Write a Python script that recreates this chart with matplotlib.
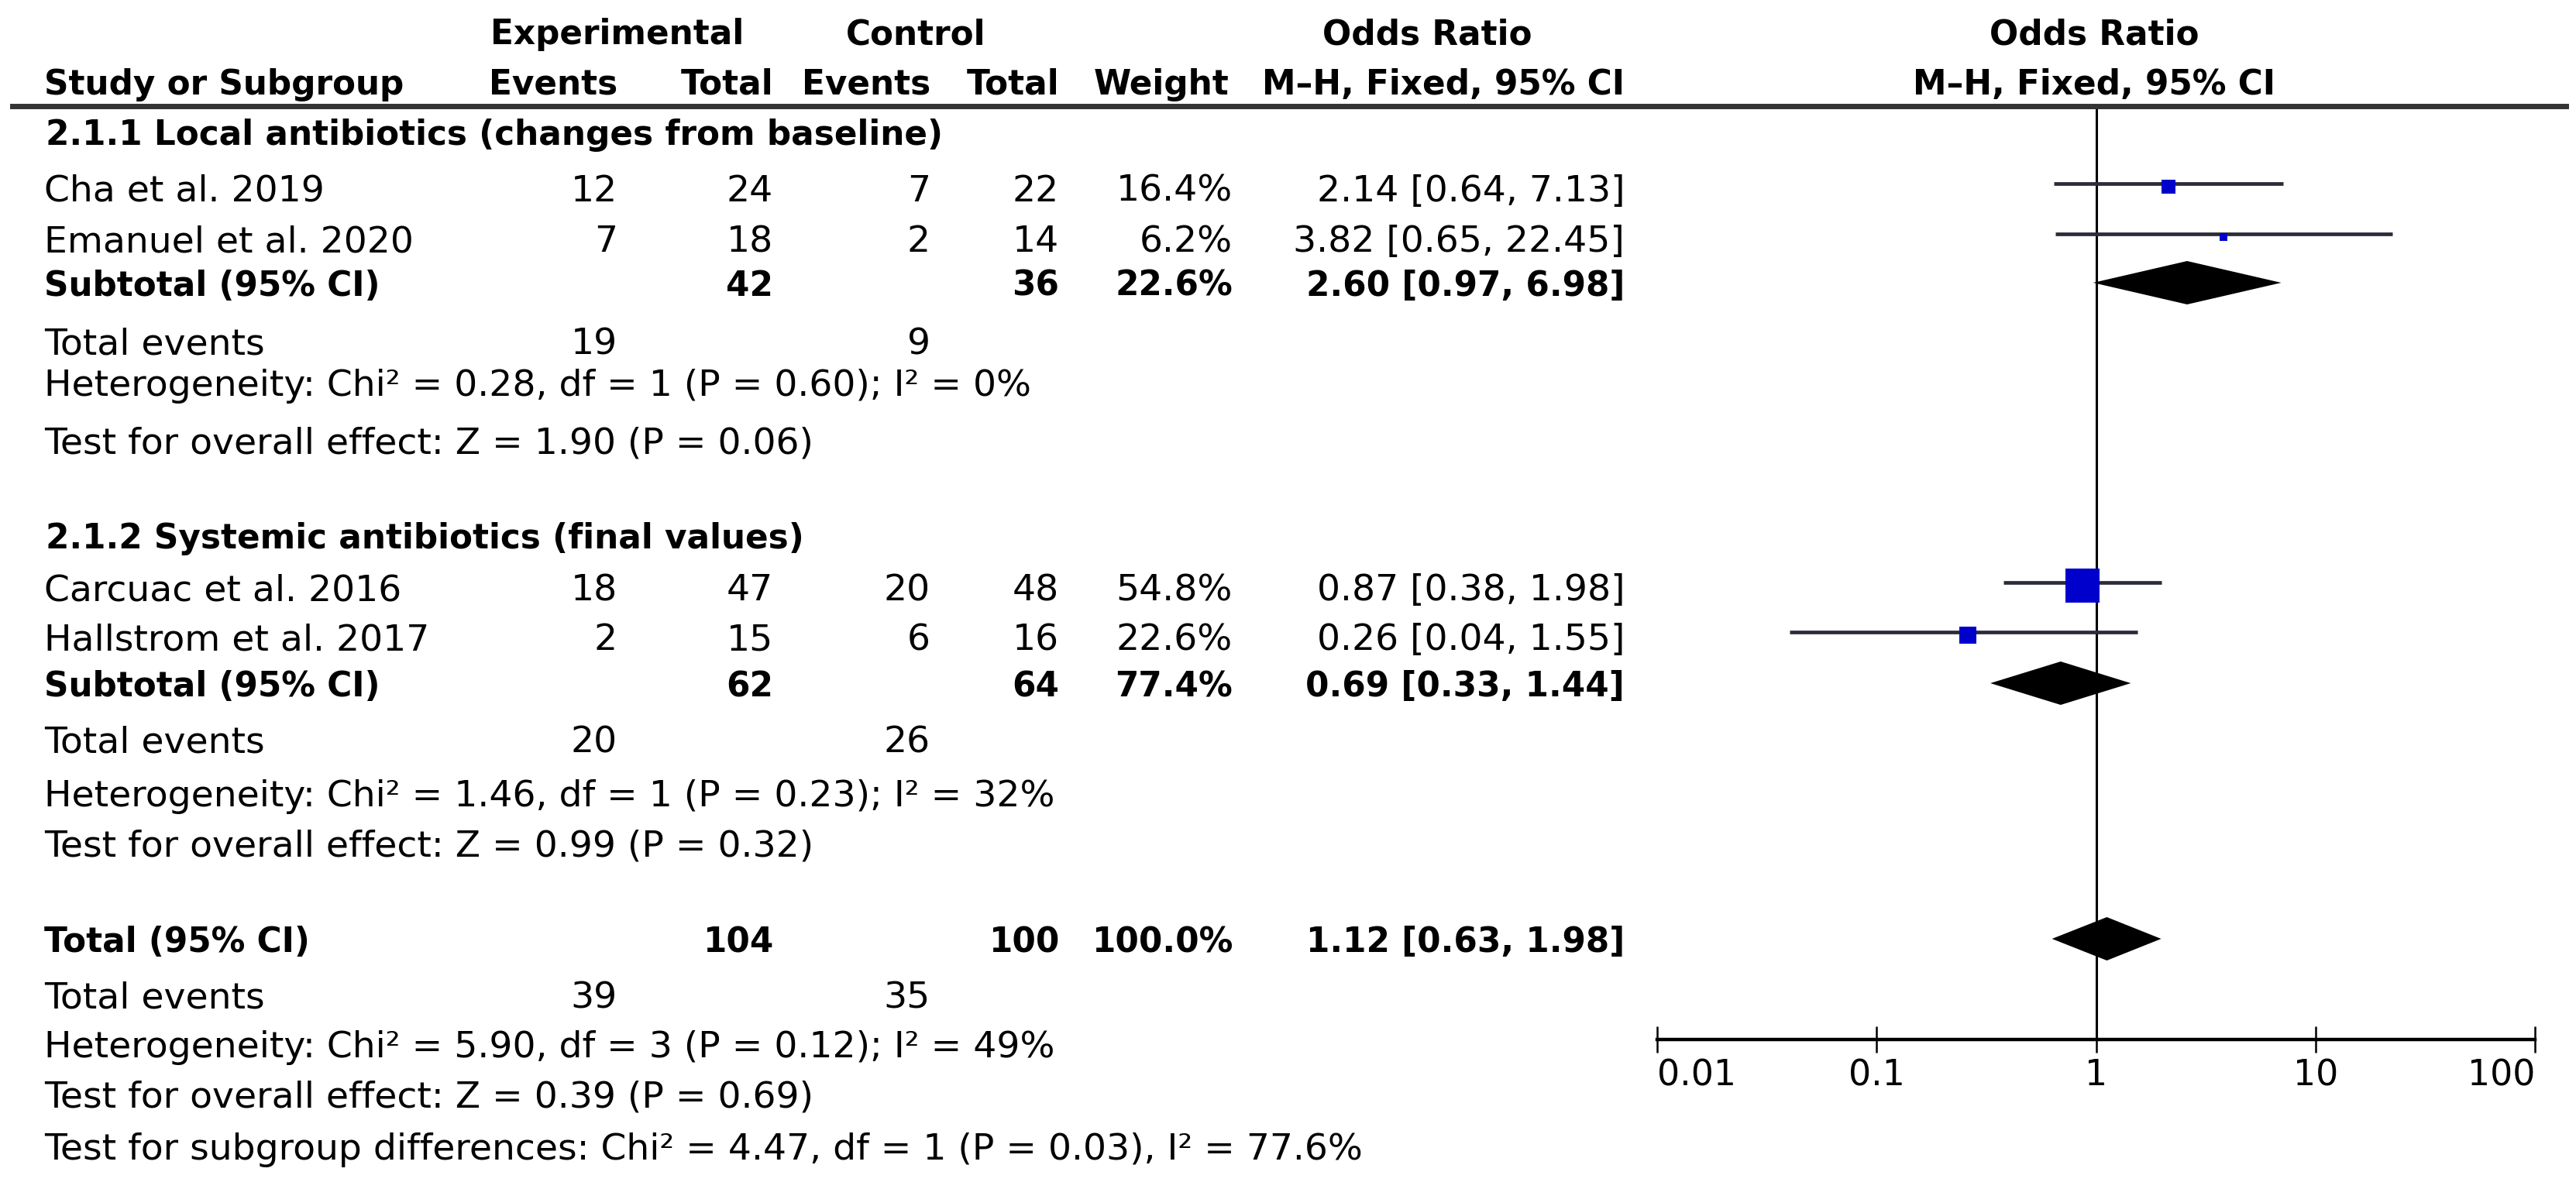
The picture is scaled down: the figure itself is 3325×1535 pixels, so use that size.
import matplotlib
matplotlib.use("Agg")
import matplotlib.pyplot as plt
from matplotlib.ticker import NullLocator
from matplotlib.lines import Line2D

# ---------------- data ----------------
studies = ["Cha et al. 2019", "Emanuel et al. 2020", "Carcuac et al. 2016", "Hallstrom et al. 2017"]
exp_events = [12, 7, 18, 2]
exp_total = [24, 18, 47, 15]
ctrl_events = [7, 2, 20, 6]
ctrl_total = [22, 14, 48, 16]
weights = [16.4, 6.2, 54.8, 22.6]
or_est = [2.14, 3.82, 0.87, 0.26]
ci_lo = [0.64, 0.65, 0.38, 0.04]
ci_hi = [7.13, 22.45, 1.98, 1.55]

subgroups = ["2.1.1 Local antibiotics (changes from baseline)", "2.1.2 Systemic antibiotics (final values)"]
sub_exp_total = [42, 62]
sub_ctrl_total = [36, 64]
sub_weight = [22.6, 77.4]
sub_or = [2.60, 0.69]
sub_lo = [0.97, 0.33]
sub_hi = [6.98, 1.44]
sub_exp_events = [19, 20]
sub_ctrl_events = [9, 26]
sub_chi = [0.28, 1.46]
sub_df = [1, 1]
sub_p = [0.60, 0.23]
sub_i2 = [0, 32]
sub_z = [1.90, 0.99]
sub_pz = [0.06, 0.32]

tot_exp_total = 104
tot_ctrl_total = 100
tot_weight = 100.0
tot_or = 1.12
tot_lo = 0.63
tot_hi = 1.98
tot_exp_events = 39
tot_ctrl_events = 35
tot_chi, tot_df, tot_p, tot_i2 = 5.90, 3, 0.12, 49
tot_z, tot_pz = 0.39, 0.69
diff_chi, diff_df, diff_p, diff_i2 = 4.47, 1, 0.03, 77.6

tick_vals = [0.01, 0.1, 1, 10, 100]
tick_labels = ["0.01", "0.1", "1", "10", "100"]

# ---------------- layout ----------------
W, H = 3325, 1535
FS = 34
FS_B = 31.5
FS_T = 33
FONT = "DejaVu Sans"
plt.rcParams['font.family'] = [FONT]

fig = plt.figure(figsize=(W / 100, H / 100), dpi=100)
fig.patch.set_facecolor("white")
ax = fig.add_axes([0, 0, 1, 1])
ax.set_xlim(0, W)
ax.set_ylim(H, 0)
ax.axis("off")

X_LEFT = 57
X_EE, X_ET, X_CE, X_CT, X_W, X_OR = 797, 998, 1201, 1367, 1591, 2097
X_PLOT_C = 2703
CAP = 17  # half cap-height offset to baseline


def txt(x, y, s, ha="left", bold=False):
    ax.text(x, y + CAP, s, ha=ha, va="baseline",
            fontsize=FS_B if bold else FS,
            fontweight="bold" if bold else "normal", color="black")


def fmt_or(o, l, h):
    return f"{o:.2f} [{l:.2f}, {h:.2f}]"


# headers
txt(797, 40, "Experimental", ha="center", bold=True)
txt(1182, 40, "Control", ha="center", bold=True)
txt(1842, 40, "Odds Ratio", ha="center", bold=True)
txt(X_PLOT_C, 40, "Odds Ratio", ha="center", bold=True)
txt(X_LEFT, 105, "Study or Subgroup", bold=True)
txt(X_EE, 105, "Events", ha="right", bold=True)
txt(X_ET, 105, "Total", ha="right", bold=True)
txt(X_CE, 105, "Events", ha="right", bold=True)
txt(X_CT, 105, "Total", ha="right", bold=True)
txt(1586, 105, "Weight", ha="right", bold=True)
txt(X_OR, 105, "M\u2013H, Fixed, 95% CI", ha="right", bold=True)
txt(X_PLOT_C, 105, "M\u2013H, Fixed, 95% CI", ha="center", bold=True)

fig.add_artist(Line2D([16 / W, 3312 / W], [1 - 137 / H, 1 - 137 / H],
                      color="#333333", lw=5))

# row positions (pixel rows)
group_head_y = [170, 691]
study_y = [[243, 308], [758, 822]]
sub_y = [365, 882]
ev_y = [441, 954]
het_y = [494, 1024]
z_y = [568, 1088]
total_y = 1212
tot_ev_y = 1285
tot_het_y = 1348
tot_z_y = 1413
diff_y = 1480

# forest axes
PL, PR, PT, PB = 2139, 3272, 137, 1342
fx = fig.add_axes([PL / W, 1 - PB / H, (PR - PL) / W, (PB - PT) / H])
fx.set_xscale("log")
fx.set_xlim(tick_vals[0], tick_vals[-1])
fx.set_ylim(PB, PT)
fx.patch.set_alpha(0)
for s in ["top", "left", "right"]:
    fx.spines[s].set_visible(False)
fx.spines["bottom"].set_linewidth(3.2)
fx.set_yticks([])
fx.set_xticks(tick_vals)
fx.set_xticklabels(tick_labels)
fx.xaxis.set_minor_locator(NullLocator())
fx.tick_params(axis="x", direction="inout", length=25, width=1.8, pad=5,
               labelsize=FS_T)
lbls = fx.get_xticklabels()
lbls[0].set_ha("left")
lbls[-1].set_ha("right")
fx.axvline(1, color="black", lw=2.2, zorder=1)

idx = 0
for g in range(2):
    txt(X_LEFT + 2, group_head_y[g], subgroups[g], bold=True)
    for k in range(2):
        y = study_y[g][k]
        txt(X_LEFT, y, studies[idx])
        txt(X_EE, y, str(exp_events[idx]), ha="right")
        txt(X_ET, y, str(exp_total[idx]), ha="right")
        txt(X_CE, y, str(ctrl_events[idx]), ha="right")
        txt(X_CT, y, str(ctrl_total[idx]), ha="right")
        txt(X_W, y, f"{weights[idx]:.1f}%", ha="right")
        txt(X_OR, y, fmt_or(or_est[idx], ci_lo[idx], ci_hi[idx]), ha="right")
        fx.hlines(y - 6, ci_lo[idx], ci_hi[idx], color="#2b2b3a", lw=3.4, zorder=2)
        side = 0.7 * weights[idx] + 6
        fx.scatter([or_est[idx]], [y - 2], marker="s", s=(side * 0.72) ** 2,
                   color="#0000cc", linewidths=0, zorder=3)
        idx += 1
    y = sub_y[g]
    txt(X_LEFT, y, "Subtotal (95% CI)", bold=True)
    txt(X_ET, y, str(sub_exp_total[g]), ha="right", bold=True)
    txt(X_CT, y, str(sub_ctrl_total[g]), ha="right", bold=True)
    txt(X_W, y, f"{sub_weight[g]:.1f}%", ha="right", bold=True)
    txt(X_OR, y, fmt_or(sub_or[g], sub_lo[g], sub_hi[g]), ha="right", bold=True)
    fx.fill([sub_lo[g], sub_or[g], sub_hi[g], sub_or[g]],
            [y, y - 28, y, y + 28], color="black", lw=0, zorder=3)
    txt(X_LEFT, ev_y[g], "Total events")
    txt(X_EE, ev_y[g], str(sub_exp_events[g]), ha="right")
    txt(X_CE, ev_y[g], str(sub_ctrl_events[g]), ha="right")
    txt(X_LEFT, het_y[g],
        f"Heterogeneity: Chi\u00b2 = {sub_chi[g]:.2f}, df = {sub_df[g]} (P = {sub_p[g]:.2f}); I\u00b2 = {sub_i2[g]}%")
    txt(X_LEFT, z_y[g], f"Test for overall effect: Z = {sub_z[g]:.2f} (P = {sub_pz[g]:.2f})")

# total
txt(X_LEFT, total_y, "Total (95% CI)", bold=True)
txt(X_ET, total_y, str(tot_exp_total), ha="right", bold=True)
txt(X_CT, total_y, str(tot_ctrl_total), ha="right", bold=True)
txt(X_W, total_y, f"{tot_weight:.1f}%", ha="right", bold=True)
txt(X_OR, total_y, fmt_or(tot_or, tot_lo, tot_hi), ha="right", bold=True)
fx.fill([tot_lo, tot_or, tot_hi, tot_or],
        [total_y, total_y - 28, total_y, total_y + 28], color="black", lw=0, zorder=3)
txt(X_LEFT, tot_ev_y, "Total events")
txt(X_EE, tot_ev_y, str(tot_exp_events), ha="right")
txt(X_CE, tot_ev_y, str(tot_ctrl_events), ha="right")
txt(X_LEFT, tot_het_y,
    f"Heterogeneity: Chi\u00b2 = {tot_chi:.2f}, df = {tot_df} (P = {tot_p:.2f}); I\u00b2 = {tot_i2}%")
txt(X_LEFT, tot_z_y, f"Test for overall effect: Z = {tot_z:.2f} (P = {tot_pz:.2f})")
txt(X_LEFT, diff_y,
    f"Test for subgroup differences: Chi\u00b2 = {diff_chi:.2f}, df = {diff_df} (P = {diff_p:.2f}), I\u00b2 = {diff_i2:.1f}%")

fig.savefig("out.png", dpi=100, facecolor="white")
